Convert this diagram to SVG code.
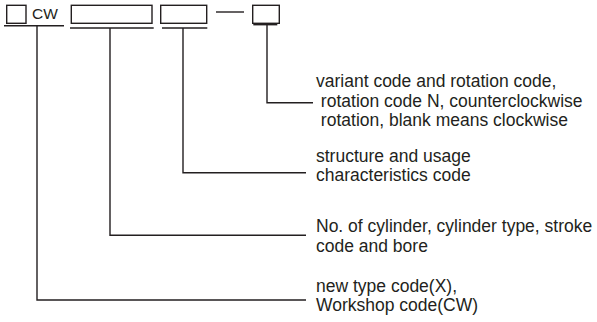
<svg xmlns="http://www.w3.org/2000/svg" width="597" height="322" viewBox="0 0 597 322">
<style>
.box{fill:none;stroke:#231f20;stroke-width:1.4}
.ln{fill:none;stroke:#231f20;stroke-width:1.4}
.t{font-family:"Liberation Sans",Arial,sans-serif;font-size:17.5px;fill:#231f20}
.cw{font-family:"Liberation Sans",Arial,sans-serif;font-size:15.5px;fill:#231f20}
</style>
<rect width="597" height="322" fill="#fff"/>
<g id="code-boxes">
<g id="box-workshop"><rect class="box" x="6.7" y="5.3" width="19.3" height="18"/><text class="cw" x="32" y="18.5">CW</text><line class="ln" x1="4" y1="25.7" x2="64" y2="25.7"/></g>
<g id="box-cylinder"><rect class="box" x="71.3" y="5.3" width="80.7" height="18"/><line class="ln" x1="70" y1="28" x2="153.7" y2="28"/></g>
<g id="box-structure"><rect class="box" x="160.7" y="5.3" width="46" height="18"/><line class="ln" x1="162" y1="28" x2="207.3" y2="28"/></g>
<g id="dash"><line class="ln" x1="216" y1="12" x2="244" y2="12"/></g>
<g id="box-variant"><rect class="box" x="252.7" y="5.3" width="26.6" height="18"/><line class="ln" x1="253.3" y1="24.7" x2="277.3" y2="24.7"/></g>
</g>
<g id="connectors">
<polyline class="ln" points="267,24.7 267,102.7 313,102.7"/>
<polyline class="ln" points="183,28 183,172.7 306,172.7"/>
<polyline class="ln" points="110,28 110,235.3 306,235.3"/>
<polyline class="ln" points="37,25.7 37,300 306,300"/>
</g>
<g id="label-variant"><text class="t" x="316" y="87">variant code and rotation code,</text><text class="t" x="316" y="106.5" xml:space="preserve"> rotation code N, counterclockwise</text><text class="t" x="316" y="126" xml:space="preserve"> rotation, blank means clockwise</text></g>
<g id="label-structure"><text class="t" x="316" y="162">structure and usage</text><text class="t" x="316" y="181">characteristics code</text></g>
<g id="label-cylinder"><text class="t" x="316" y="232.3">No. of cylinder, cylinder type, stroke</text><text class="t" x="316" y="251.7">code and bore</text></g>
<g id="label-workshop"><text class="t" x="316" y="291.7">new type code(X),</text><text class="t" x="316" y="311">Workshop code(CW)</text></g>
</svg>
